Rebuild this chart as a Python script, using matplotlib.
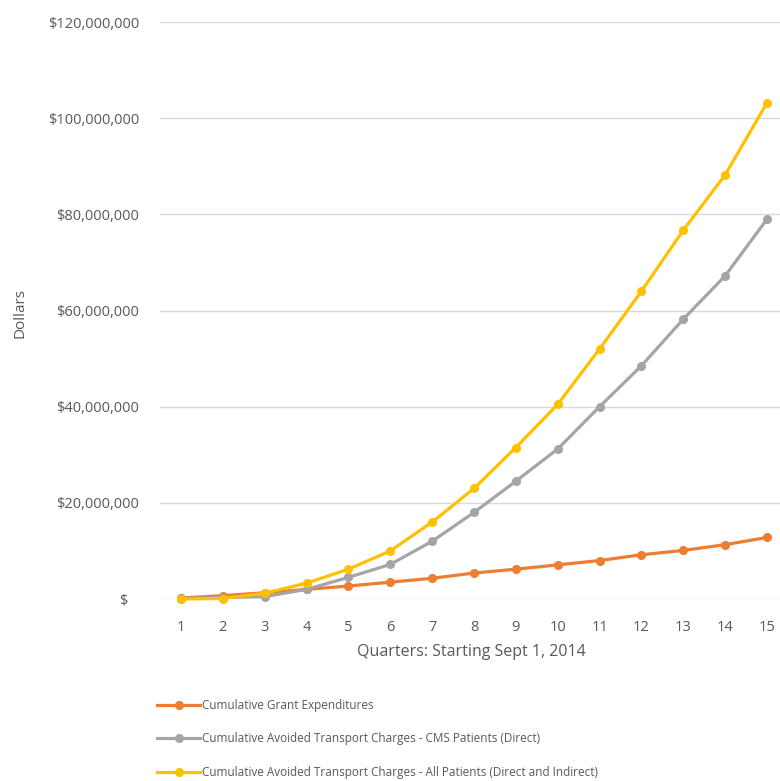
import matplotlib
matplotlib.use('Agg')
import matplotlib.pyplot as plt
from matplotlib.ticker import FuncFormatter

# values in millions of dollars
quarters = list(range(1, 16))
grant = [0.2, 0.7, 1.3, 2.0, 2.7, 3.5, 4.3, 5.4, 6.2, 7.1, 8.0, 9.2, 10.1, 11.3, 12.8]
cms_direct = [0.1, 0.3, 0.5, 2.0, 4.5, 7.2, 12.0, 18.0, 24.5, 31.2, 40.0, 48.5, 58.2, 67.2, 79.0]
all_patients = [0.0, 0.1, 1.2, 3.3, 6.2, 10.0, 16.0, 23.0, 31.5, 40.5, 52.0, 64.0, 76.7, 88.2, 103.2]

labels = ['Cumulative Grant Expenditures',
          'Cumulative Avoided Transport Charges - CMS Patients (Direct)',
          'Cumulative Avoided Transport Charges - All Patients (Direct and Indirect)']
colors = ['#ED7D31', '#A5A5A5', '#FFC000']

plt.rcParams['font.family'] = ['Open Sans', 'DejaVu Sans']
txt = '#595959'

fig = plt.figure(figsize=(7.8, 7.81), dpi=100)
ax = fig.add_axes([160/780, 1 - 599/781, 620/780, (599 - 22)/781])

for ys, c, lab in zip([grant, cms_direct, all_patients], colors, labels):
    ax.plot(quarters, [v * 1e6 for v in ys], color=c, lw=2.3, marker='o', ms=5.5,
            label=lab, clip_on=False, zorder=3)

def money(v, pos):
    if v == 0:
        return '$   '
    return '${:,.0f}'.format(v)

ax.set_ylim(0, 120e6)
ax.set_yticks([i * 20e6 for i in range(7)])
ax.yaxis.set_major_formatter(FuncFormatter(money))
ax.set_xlim(1 - 21/41.86, 15 + 13/41.86)
ax.set_xticks(quarters)
ax.grid(axis='y', color='#D9D9D9', lw=1)
ax.set_axisbelow(True)
for s in ax.spines.values():
    s.set_visible(False)
ax.tick_params(length=0, colors=txt, labelsize=10.5)
ax.tick_params(axis='y', pad=15)
ax.tick_params(axis='x', pad=15)

fig.text(471/780, 1 - 652/781, 'Quarters: Starting Sept 1, 2014', ha='center', va='center',
         color=txt, fontsize=11.5)
fig.text(20/780, 1 - 313/781, 'Dollars', rotation=90, ha='center', va='center',
         color=txt, fontsize=11)

fig.legend(loc='upper left', bbox_to_anchor=(152/780, 1 - 694/781), frameon=False,
           fontsize=8.5, labelcolor=txt, handlelength=3.7, handletextpad=0.1,
           labelspacing=1.75, borderaxespad=0)

fig.savefig('out.png', dpi=100, facecolor='white')
